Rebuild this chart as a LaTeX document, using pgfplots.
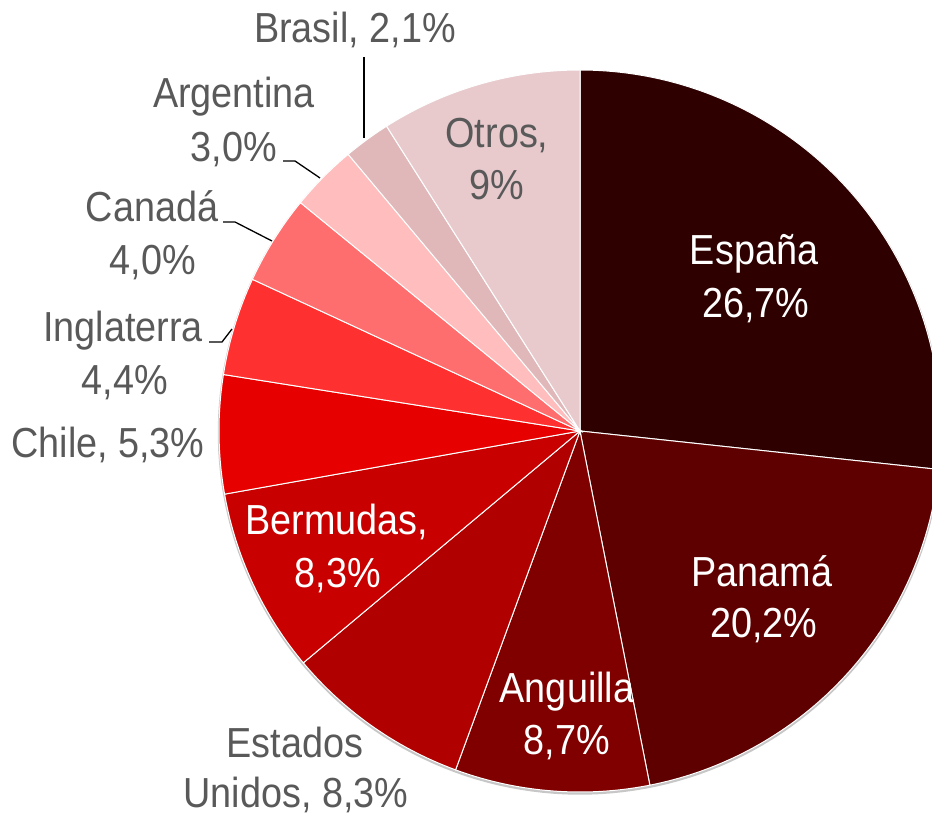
\documentclass[border=0pt]{standalone}
\usepackage{pgfplots}
\pgfplotsset{compat=1.18}
\usepackage{fontspec}
\setmainfont{Liberation Sans}[FakeStretch=0.9]
\definecolor{cEsp}{HTML}{2E0000}
\definecolor{cPan}{HTML}{5E0000}
\definecolor{cAng}{HTML}{800000}
\definecolor{cEU}{HTML}{B00000}
\definecolor{cBer}{HTML}{C80000}
\definecolor{cChi}{HTML}{E60000}
\definecolor{cIng}{HTML}{FF3030}
\definecolor{cCan}{HTML}{FF6E6E}
\definecolor{cArg}{HTML}{FFBDBD}
\definecolor{cBra}{HTML}{E0B8BA}
\definecolor{cOtr}{HTML}{E8CACD}
\definecolor{labgray}{HTML}{595959}
\newcommand{\lab}{\fontsize{42}{53}\selectfont}
% shares (%): Espana 26.7, Panama 20.2, Anguilla 8.7, EEUU 8.3, Bermudas 8.3,
% Chile 5.3, Inglaterra 4.4, Canada 4.0, Argentina 3.0, Brasil 2.1, Otros 9
% slice angles = 90 - 3.6*cumulative share
\newcommand{\slice}[3]{\addplot[fill=#3, draw=white, line width=1pt, domain=#1:#2, samples=90]
  ({580+361*cos(x)},{388+361*sin(x)}) -- (axis cs:580,388) -- cycle;}
\begin{document}
\begin{tikzpicture}
\begin{axis}[name=ax, width=932pt, height=819pt, scale only axis,
  xmin=0, xmax=932, ymin=0, ymax=819, hide axis, clip=true]
\addplot[draw=black!22, line width=2.5pt, domain=0:360, samples=200]
  ({580+361*cos(x)},{386.5+361*sin(x)});
\slice{-6.12}{90}{cEsp}
\slice{-78.84}{-6.12}{cPan}
\slice{-110.16}{-78.84}{cAng}
\slice{-140.04}{-110.16}{cEU}
\slice{-169.92}{-140.04}{cBer}
\slice{-189}{-169.92}{cChi}
\slice{-204.84}{-189}{cIng}
\slice{-219.24}{-204.84}{cCan}
\slice{-230.04}{-219.24}{cArg}
\slice{-237.6}{-230.04}{cBra}
\slice{-270}{-237.6}{cOtr}
% leader lines
\addplot[black, line width=1.3pt] coordinates {(364,762) (364,681)};
\addplot[black, line width=1.3pt] coordinates {(283,658) (295,658) (320,641)};
\addplot[black, line width=1.3pt] coordinates {(223,597) (235,597) (272,578)};
\addplot[black, line width=1.3pt] coordinates {(209,477) (222,477) (232,490)};
% labels
\begin{scope}[every node/.style={font=\lab, anchor=base, inner sep=0pt}]
\node[text=white] at (axis cs:754,554) {España};
\node[text=white] at (axis cs:756,501) {26,7\%};
\node[text=white] at (axis cs:762,232) {Panamá};
\node[text=white] at (axis cs:764,181) {20,2\%};
\node[text=white] at (axis cs:567,116) {Anguilla};
\node[text=white] at (axis cs:567,64) {8,7\%};
\node[text=white] at (axis cs:337,284) {Bermudas,};
\node[text=white] at (axis cs:338,231) {8,3\%};
\node[text=labgray] at (axis cs:295,61) {Estados};
\node[text=labgray] at (axis cs:296,11) {Unidos, 8,3\%};
\node[text=labgray] at (axis cs:108,361) {Chile, 5,3\%};
\node[text=labgray] at (axis cs:123,477) {Inglaterra};
\node[text=labgray] at (axis cs:125,424) {4,4\%};
\node[text=labgray] at (axis cs:152,597) {Canadá};
\node[text=labgray] at (axis cs:153,544) {4,0\%};
\node[text=labgray] at (axis cs:234,711) {Argentina};
\node[text=labgray] at (axis cs:234,657) {3,0\%};
\node[text=labgray] at (axis cs:355,776) {Brasil, 2,1\%};
\node[text=labgray] at (axis cs:497,671) {Otros,};
\node[text=labgray] at (axis cs:497,619) {9\%};
\end{scope}
\end{axis}
\pgfresetboundingbox
\path[use as bounding box] (ax.south west) rectangle (ax.north east);
\end{tikzpicture}
\end{document}
